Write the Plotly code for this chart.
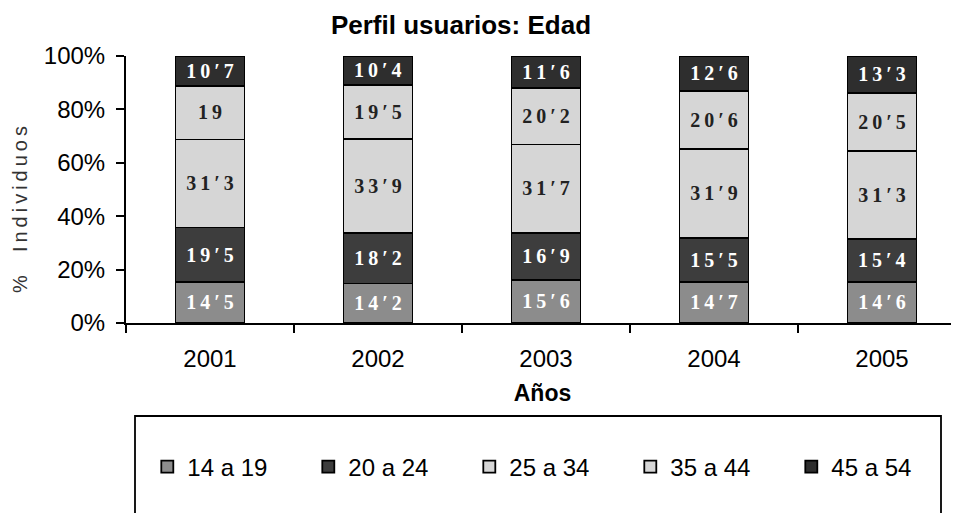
import plotly.graph_objects as go

years = ["2001", "2002", "2003", "2004", "2005"]
groups = ["14 a 19", "20 a 24", "25 a 34", "35 a 44", "45 a 54"]
v_14_19 = [14.5, 14.2, 15.6, 14.7, 14.6]
v_20_24 = [19.5, 18.2, 16.9, 15.5, 15.4]
v_25_34 = [31.3, 33.9, 31.7, 31.9, 31.3]
v_35_44 = [19.0, 19.5, 20.2, 20.6, 20.5]
v_45_54 = [10.7, 10.4, 11.6, 12.6, 13.3]
series = [v_14_19, v_20_24, v_25_34, v_35_44, v_45_54]
y_ticks = [0, 20, 40, 60, 80, 100]
y_tick_labels = ["0%", "20%", "40%", "60%", "80%", "100%"]

fills = ["#8c8c8c", "#3d3d3d", "#d6d6d6", "#d6d6d6", "#2e2e2e"]
text_colors = ["white", "white", "#222222", "#222222", "white"]


def fmt(v):
    s = ("%g" % v).replace(".", "\u2032")
    return "\u2009".join(s)


# the page places the figure 8px in from the top-left corner
W, H = 951, 505
PW = 833  # plot width in px (runs to the right edge of the window)
PH = 267

fig = go.Figure()
for name, vals, fc, tc in zip(groups, series, fills, text_colors):
    fig.add_trace(go.Bar(
        x=years, y=vals, name=name,
        marker=dict(color=fc, line=dict(color="black", width=1.8)),
        text=[fmt(v) for v in vals],
        textposition="inside", insidetextanchor="middle", textangle=0,
        textfont=dict(family="Liberation Serif", size=21, color=tc, weight="bold"),
        hoverinfo="skip",
    ))

fig.update_layout(
    barmode="stack", barnorm="percent", bargap=0.59,
    width=W, height=H,
    margin=dict(l=118, r=0, t=48, b=190, autoexpand=False),
    paper_bgcolor="white", plot_bgcolor="white",
    font=dict(family="Liberation Sans", color="black"),
    title=dict(text="<b>Perfil usuarios: Edad</b>", x=453/W, xref="container", xanchor="center",
               y=1-17/H, yref="container", yanchor="middle",
               font=dict(size=26, color="black")),
    showlegend=True,
    legend=dict(orientation="h", x=21.3/PW, xanchor="left", y=-144/PH, yanchor="middle",
                traceorder="normal", entrywidth=116, entrywidthmode="pixels",
                font=dict(size=24, color="black"), bgcolor="rgba(0,0,0,0)",
                itemwidth=30),
    uniformtext=dict(minsize=10, mode="show"),
    shapes=[dict(type="rect", xref="paper", yref="paper", x0=9/PW, x1=815/PW, y0=-200/PH, y1=-93/PH,
                 line=dict(color="black", width=1.8), fillcolor="rgba(0,0,0,0)", layer="below")],
    annotations=[dict(text="\u2009".join("%  Individuos"), textangle=-90,
                      xref="paper", yref="paper", x=-106/PW, y=113/PH,
                      xanchor="center", yanchor="middle", showarrow=False,
                      font=dict(size=20, color="#333333"))],
)

fig.update_xaxes(
    range=[-0.5, -0.5 + PW / 168],
    showline=True, linecolor="black", linewidth=2,
    ticks="outside", ticklen=8, tickwidth=2, tickcolor="black", tickson="boundaries",
    tickfont=dict(size=24), ticklabelstandoff=13,
    title=dict(text="<b>Años</b>", font=dict(size=23), standoff=14),
    showgrid=False,
)
fig.update_yaxes(
    range=[0, 100], tickvals=y_ticks, ticktext=y_tick_labels,
    showline=True, linecolor="black", linewidth=2,
    ticks="outside", ticklen=8, tickwidth=2, tickcolor="black",
    tickfont=dict(size=24), ticklabelstandoff=6,
    showgrid=False, zeroline=False,
)

fig.write_html("out.html")
